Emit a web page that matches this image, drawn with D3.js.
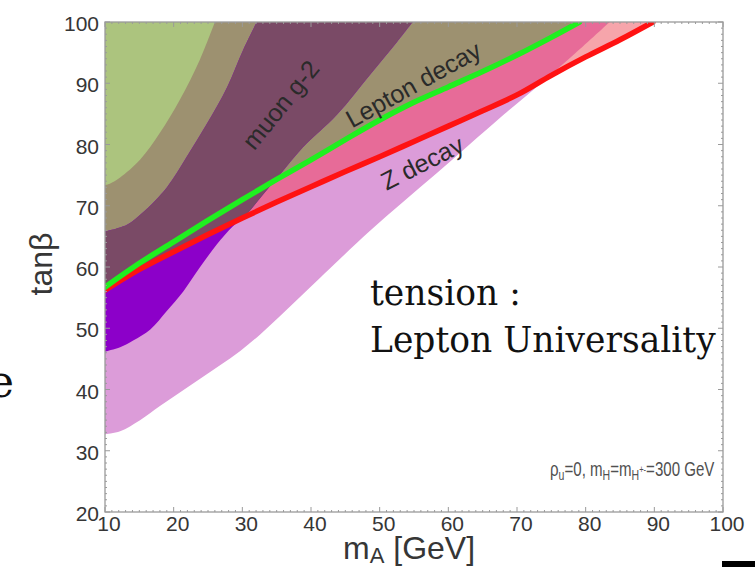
<!DOCTYPE html>
<html>
<head>
<meta charset="utf-8">
<script src="https://cdn.jsdelivr.net/npm/d3@7"></script>
<style>
  body { margin: 0; background: #fff; }
  svg { display: block; }
</style>
</head>
<body>
<svg id="chart" width="755" height="567"></svg>
<script>
// Axis ticks
const mATicks = [10, 20, 30, 40, 50, 60, 70, 80, 90, 100];
const tanbTicks = [20, 30, 40, 50, 60, 70, 80, 90, 100];

// Contour boundaries, each as [m_A (GeV), tan(beta)]
// Lepton decay bound (green line)
const leptonLine = [[10,56.7],[15,60.6],[20,64.1],[25,67.6],[30,71.0],[35,74.3],[40,77.5],[45,80.8],[50,84.0],[55,86.9],[60,89.4],[65,91.9],[70,94.6],[75,97.5],[79.1,100]];
// Z decay bound (red line)
const zLine = [[10,56.2],[15,59.6],[20,62.5],[25,65.3],[30,68.0],[35,70.6],[40,73.1],[45,75.6],[50,78.0],[55,80.5],[60,83.0],[65,85.5],[70,88.1],[75,91.3],[80,94.3],[85,97.1],[89.8,100]];
// Lower edge of the Z decay allowed region
const zLower = [[10,32.7],[12.2,33.2],[15.1,35.0],[18.0,37.3],[20.9,39.5],[23.8,41.7],[26.7,43.9],[29.7,46.3],[32.6,49.0],[35.5,52.0],[38.4,55.1],[41.3,58.2],[44.2,61.3],[48.6,65.9],[53.4,70.6],[58.3,75.3],[63.0,79.9],[68.0,84.8],[73.8,90.3],[78.4,94.8],[83.5,100]];
// muon g-2 band: upper-left edge and lower-right edge
const g2Upper = [[10,65.8],[13.2,66.9],[15.5,68.9],[19.0,73.0],[21.9,78.0],[24.9,83.5],[27.8,89.4],[30.1,95.4],[32.1,100]];
const g2Lower = [[54.8,100],[52.5,96.7],[48.6,91.4],[43.8,84.9],[38.8,79.5],[35.5,75.1],[33.0,71.8],[30.7,68.7],[28.6,66.6],[26.3,63.7],[23.8,59.9],[21.4,56.0],[19.0,52.8],[16.6,49.8],[14.1,48.0],[12.2,46.9],[10,46.2]];
// Outer edge of the light green region
const outerEdge = [[10,73.4],[10.7,73.6],[12.2,74.6],[15.1,77.5],[18.0,81.9],[20.9,87.3],[23.8,93.8],[26.0,100]];

const svg = d3.select("#chart");
const x = d3.scaleLinear().domain([10, 100]).range([105, 723]);
const y = d3.scaleLinear().domain([20, 100]).range([512, 22]);

const curve = d3.line().x(d => x(d[0])).y(d => y(d[1])).curve(d3.curveCatmullRom.alpha(0.5));

// Joins smooth segments with straight edges into a closed outline
function regionPath(segments) {
  return segments.map((s, i) => {
    const p = s.length > 1 ? curve(s) : `M${x(s[0][0])},${y(s[0][1])}`;
    return i ? "L" + p.slice(1) : p;
  }).join("") + "Z";
}
const corner = [[10, 100]];

const defs = svg.append("defs");
defs.append("clipPath").attr("id", "plot")
  .append("rect").attr("x", x(10)).attr("y", y(100))
  .attr("width", x(100) - x(10)).attr("height", y(20) - y(100));
defs.append("clipPath").attr("id", "aboveZLower")
  .append("path").attr("d", regionPath([zLower, corner]));
defs.append("clipPath").attr("id", "aboveZLine")
  .append("path").attr("d", regionPath([zLine, corner]));

const g = svg.append("g").attr("clip-path", "url(#plot)");

// Z decay allowed region
g.append("path").attr("d", regionPath([zLower, corner])).attr("fill", "#dc9cd9");
// above the Z line
g.append("path").attr("d", regionPath([zLine, corner])).attr("fill", "#f6a5ab");
g.append("g").attr("clip-path", "url(#aboveZLower)")
  .append("path").attr("d", regionPath([zLine, corner])).attr("fill", "#e76b98");
// above the lepton decay line
g.append("path").attr("d", regionPath([leptonLine, corner])).attr("fill", "#9d9170");
// muon g-2 band
g.append("path").attr("d", regionPath([g2Upper, g2Lower])).attr("fill", "#8c00c9");
g.append("g").attr("clip-path", "url(#aboveZLine)")
  .append("path").attr("d", regionPath([g2Upper, g2Lower])).attr("fill", "#7a4a66");
// light green corner
g.append("path").attr("d", regionPath([outerEdge, corner])).attr("fill", "#acc47e");

// boundary lines
g.append("path").attr("d", curve(zLine)).attr("fill", "none")
  .attr("stroke", "#ff1212").attr("stroke-width", 5.5).attr("stroke-linecap", "round");
g.append("path").attr("d", curve(leptonLine)).attr("fill", "none")
  .attr("stroke", "#1ff01f").attr("stroke-width", 5.5).attr("stroke-linecap", "round");

// frame and ticks
const frame = svg.append("g").attr("stroke", "#9a9a9a").attr("fill", "none");
frame.append("rect").attr("x", x(10)).attr("y", y(100))
  .attr("width", x(100) - x(10)).attr("height", y(20) - y(100)).attr("stroke-width", 1.3);
d3.range(10, 100.01, 1).forEach(v => {
  const len = v % 10 === 0 ? 5 : 2;
  frame.append("line").attr("x1", x(v)).attr("x2", x(v)).attr("y1", y(20)).attr("y2", y(20) - len);
  frame.append("line").attr("x1", x(v)).attr("x2", x(v)).attr("y1", y(100)).attr("y2", y(100) + len);
});
d3.range(20, 100.01, 1).forEach(t => {
  const len = t % 10 === 0 ? 5 : 2;
  frame.append("line").attr("x1", x(10)).attr("x2", x(10) + len).attr("y1", y(t)).attr("y2", y(t));
  frame.append("line").attr("x1", x(100)).attr("x2", x(100) - len).attr("y1", y(t)).attr("y2", y(t));
});

const sans = "'Liberation Sans', Arial, Helvetica, sans-serif";
svg.append("g").selectAll("text").data(mATicks).join("text")
  .attr("x", d => x(d) + 4).attr("y", 531)
  .attr("text-anchor", "middle").attr("font-family", sans).attr("font-size", 21)
  .attr("fill", "#363636").text(d => d);
svg.append("g").selectAll("text").data(tanbTicks).join("text")
  .attr("x", 99).attr("y", d => y(d) + 9)
  .attr("text-anchor", "end").attr("font-family", sans).attr("font-size", 21)
  .attr("fill", "#363636").text(d => d);

// axis titles
const xt = svg.append("text").attr("x", 343).attr("y", 559)
  .attr("font-family", sans).attr("font-size", 32).attr("fill", "#363636");
xt.append("tspan").text("m");
xt.append("tspan").attr("font-size", 22).attr("dy", 4).text("A");
xt.append("tspan").attr("dy", -4).text(" [GeV]");

svg.append("text").attr("transform", "translate(52,264) rotate(-90)")
  .attr("text-anchor", "middle").attr("font-family", sans).attr("font-size", 32)
  .attr("fill", "#363636").text("tanβ");

// region labels
const labels = [
  { text: "muon g-2", v: 35.6, t: 86.5, angle: -51, size: 25 },
  { text: "Lepton decay", v: 54.9, t: 89.8, angle: -29, size: 25 },
  { text: "Z decay", v: 56.2, t: 77.0, angle: -27, size: 25 }
];
svg.append("g").selectAll("text").data(labels).join("text")
  .attr("transform", d => `translate(${x(d.v)},${y(d.t)}) rotate(${d.angle})`)
  .attr("text-anchor", "middle").attr("dy", "0.35em")
  .attr("font-family", sans).attr("font-size", d => d.size).attr("fill", "#2a2a2a")
  .text(d => d.text);

// parameter note, narrowed to fit inside the frame
const noteG = svg.append("g");
const note = noteG.append("text").attr("x", 0).attr("y", 0)
  .attr("font-family", sans).attr("font-size", 20).attr("fill", "#505050");
note.append("tspan").text("ρ");
note.append("tspan").attr("font-size", 14).attr("dy", 4).text("u");
note.append("tspan").attr("dy", -4).text("=0, m");
note.append("tspan").attr("font-size", 14).attr("dy", 4).text("H");
note.append("tspan").attr("dy", -4).text("=m");
note.append("tspan").attr("font-size", 14).attr("dy", 4).text("H");
note.append("tspan").attr("font-size", 10).attr("dy", -7).text("+-");
note.append("tspan").attr("dy", 3).text("=300 GeV");
const noteW = note.node().getBBox().width;
noteG.attr("transform", `translate(550,476) scale(${165 / noteW},1)`);

// annotation
const serif = "'DejaVu Serif', serif";
svg.append("text").attr("x", 370).attr("y", 305)
  .attr("font-family", serif).attr("font-size", 34.5).attr("fill", "#111").text("tension :");
svg.append("text").attr("x", 370).attr("y", 352)
  .attr("font-family", serif).attr("font-size", 34.5).attr("fill", "#111").text("Lepton Universality");
svg.append("text").attr("x", 14).attr("y", 397).attr("text-anchor", "end")
  .attr("font-family", serif).attr("font-size", 44).attr("fill", "#111").text("e");

svg.append("rect").attr("x", 722).attr("y", 561).attr("width", 33).attr("height", 6).attr("fill", "#000");
</script>
</body>
</html>
